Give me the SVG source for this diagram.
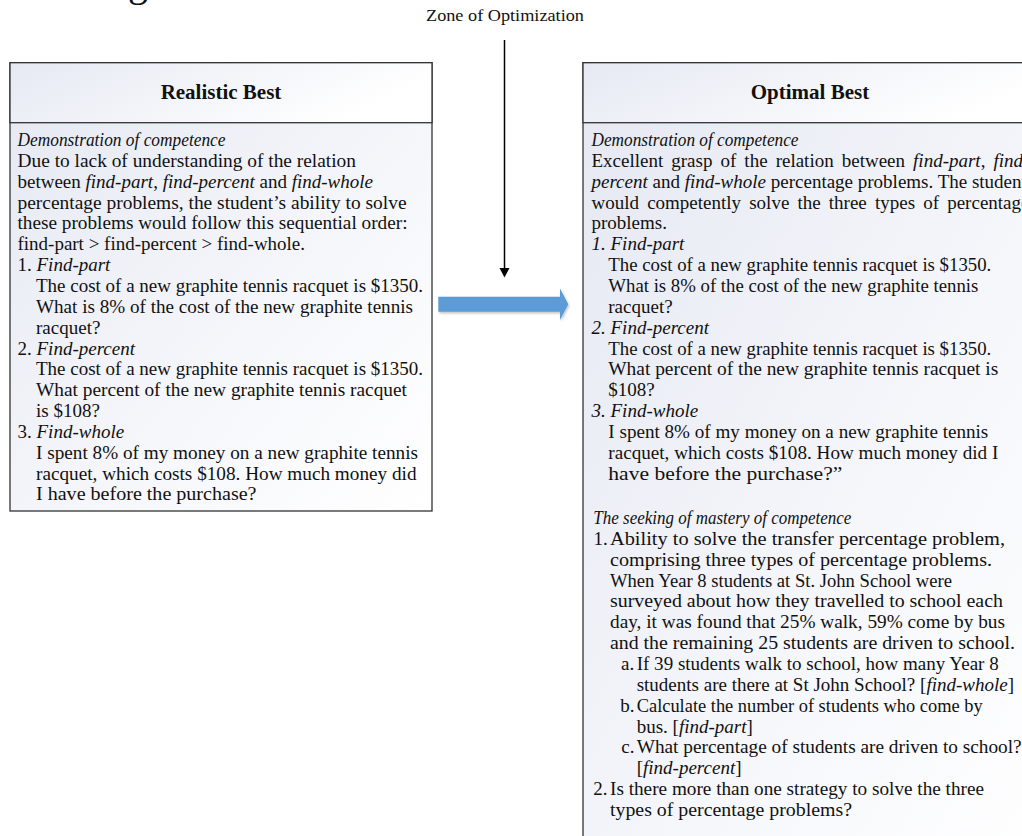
<svg xmlns="http://www.w3.org/2000/svg" width="1022" height="836" viewBox="0 0 1022 836">
<style>
text{font-family:"Liberation Serif","Times New Roman",serif;fill:#111}
.b{font-size:19px}
.i{font-style:italic}
.h{font-size:21px;font-weight:bold;text-anchor:middle}
.box{stroke:#333;stroke-width:1.3}
</style>
<defs>
<linearGradient id="gb" x1="0" y1="0" x2="1" y2="1">
<stop offset="0" stop-color="#e5e8f2"/>
<stop offset="0.6" stop-color="#f6f7fb"/>
<stop offset="1" stop-color="#ffffff"/>
</linearGradient>
<linearGradient id="gh" x1="0" y1="0" x2="1" y2="0.3">
<stop offset="0" stop-color="#e6e9f3"/>
<stop offset="1" stop-color="#ffffff"/>
</linearGradient>
<filter id="sh" x="-5%" y="-30%" width="110%" height="160%">
<feDropShadow dx="1" dy="1.5" stdDeviation="1" flood-color="#000" flood-opacity="0.25"/>
</filter>
</defs>
<rect width="1022" height="836" fill="#fff"/>
<text x="128" y="-4" style="font-size:40px">g</text>
<text x="505" y="20.5" style="font-size:17.5px" text-anchor="middle" textLength="158" lengthAdjust="spacingAndGlyphs">Zone of Optimization</text>

<g id="realistic-best">
<rect class="box" x="10" y="62.7" width="422" height="448.3" fill="url(#gb)"/>
<rect class="box" x="10" y="62.7" width="422" height="60" fill="url(#gh)"/>
<text class="h" x="221" y="99">Realistic Best</text>
<text class="b i" x="17.5" y="146" textLength="208" lengthAdjust="spacingAndGlyphs">Demonstration of competence</text>
<text class="b" x="17.5" y="166.85" textLength="338.5" lengthAdjust="spacingAndGlyphs">Due to lack of understanding of the relation</text>
<text class="b" x="17.5" y="187.7">between <tspan class="i">find-part</tspan>, <tspan class="i">find-percent</tspan> and <tspan class="i">find-whole</tspan></text>
<text class="b" x="17.5" y="208.55" textLength="389" lengthAdjust="spacingAndGlyphs">percentage problems, the student’s ability to solve</text>
<text class="b" x="17.5" y="229.4" textLength="390" lengthAdjust="spacingAndGlyphs">these problems would follow this sequential order:</text>
<text class="b" x="17.5" y="250.25" textLength="287.5" lengthAdjust="spacingAndGlyphs">find-part &gt; find-percent &gt; find-whole.</text>
<text class="b" x="17.5" y="271.1">1. <tspan class="i">Find-part</tspan></text>
<text class="b" x="36" y="291.95" textLength="387" lengthAdjust="spacingAndGlyphs">The cost of a new graphite tennis racquet is $1350.</text>
<text class="b" x="36" y="312.8" textLength="377" lengthAdjust="spacingAndGlyphs">What is 8% of the cost of the new graphite tennis</text>
<text class="b" x="36" y="333.65">racquet?</text>
<text class="b" x="17.5" y="354.5">2. <tspan class="i">Find-percent</tspan></text>
<text class="b" x="36" y="375.35" textLength="387" lengthAdjust="spacingAndGlyphs">The cost of a new graphite tennis racquet is $1350.</text>
<text class="b" x="36" y="396.2" textLength="371" lengthAdjust="spacingAndGlyphs">What percent of the new graphite tennis racquet</text>
<text class="b" x="36" y="417.05">is $108?</text>
<text class="b" x="17.5" y="437.9">3. <tspan class="i">Find-whole</tspan></text>
<text class="b" x="36" y="458.75" textLength="382" lengthAdjust="spacingAndGlyphs">I spent 8% of my money on a new graphite tennis</text>
<text class="b" x="36" y="479.6" textLength="380.5" lengthAdjust="spacingAndGlyphs">racquet, which costs $108. How much money did</text>
<text class="b" x="36" y="500.45" textLength="220.5" lengthAdjust="spacingAndGlyphs">I have before the purchase?</text>
</g>

<g id="optimal-best">
<rect class="box" x="583" y="62.7" width="470" height="800" fill="url(#gb)"/>
<rect class="box" x="583" y="62.7" width="470" height="60" fill="url(#gh)"/>
<text class="h" x="810" y="99">Optimal Best</text>
<text class="b i" x="591.5" y="146" textLength="207" lengthAdjust="spacingAndGlyphs">Demonstration of competence</text>
<text class="b" x="591.5" y="166.85" word-spacing="3.3">Excellent grasp of the relation between <tspan class="i">find-part</tspan>, <tspan class="i">find-</tspan></text>
<text class="b" x="591.5" y="187.7"><tspan class="i">percent</tspan> and <tspan class="i">find-whole</tspan> percentage problems. The student</text>
<text class="b" x="591.5" y="208.55" word-spacing="3.4">would competently solve the three types of percentage</text>
<text class="b" x="591.5" y="229.4">problems.</text>
<text class="b i" x="591.5" y="250.25">1. Find-part</text>
<text class="b" x="608.3" y="271.1" textLength="383" lengthAdjust="spacingAndGlyphs">The cost of a new graphite tennis racquet is $1350.</text>
<text class="b" x="608.3" y="291.95" textLength="370" lengthAdjust="spacingAndGlyphs">What is 8% of the cost of the new graphite tennis</text>
<text class="b" x="608.3" y="312.8">racquet?</text>
<text class="b i" x="591.5" y="333.65">2. Find-percent</text>
<text class="b" x="608.3" y="354.5" textLength="383" lengthAdjust="spacingAndGlyphs">The cost of a new graphite tennis racquet is $1350.</text>
<text class="b" x="608.3" y="375.35" textLength="390" lengthAdjust="spacingAndGlyphs">What percent of the new graphite tennis racquet is</text>
<text class="b" x="608.3" y="396.2">$108?</text>
<text class="b i" x="591.5" y="417.05">3. Find-whole</text>
<text class="b" x="608.3" y="437.9" textLength="380" lengthAdjust="spacingAndGlyphs">I spent 8% of my money on a new graphite tennis</text>
<text class="b" x="608.3" y="458.75" textLength="390" lengthAdjust="spacingAndGlyphs">racquet, which costs $108. How much money did I</text>
<text class="b" x="608.3" y="479.6" textLength="234" lengthAdjust="spacingAndGlyphs">have before the purchase?”</text>
<text class="b i" x="593.3" y="524" textLength="258" lengthAdjust="spacingAndGlyphs">The seeking of mastery of competence</text>
<text class="b" x="593.5" y="544.85">1.</text>
<text class="b" x="610" y="544.85" textLength="395" lengthAdjust="spacingAndGlyphs">Ability to solve the transfer percentage problem,</text>
<text class="b" x="610" y="565.7" textLength="382" lengthAdjust="spacingAndGlyphs">comprising three types of percentage problems.</text>
<text class="b" x="610" y="586.55" textLength="342" lengthAdjust="spacingAndGlyphs">When Year 8 students at St. John School were</text>
<text class="b" x="610" y="607.4" textLength="393" lengthAdjust="spacingAndGlyphs">surveyed about how they travelled to school each</text>
<text class="b" x="610" y="628.25" textLength="395" lengthAdjust="spacingAndGlyphs">day, it was found that 25% walk, 59% come by bus</text>
<text class="b" x="610" y="649.1" textLength="405" lengthAdjust="spacingAndGlyphs">and the remaining 25 students are driven to school.</text>
<text class="b" x="621" y="670">a.</text>
<text class="b" x="636.7" y="670" textLength="362" lengthAdjust="spacingAndGlyphs">If 39 students walk to school, how many Year 8</text>
<text class="b" x="636.7" y="690.85">students are there at St John School? [<tspan class="i">find-whole</tspan>]</text>
<text class="b" x="620.3" y="711.7">b.</text>
<text class="b" x="636.7" y="711.7" textLength="346" lengthAdjust="spacingAndGlyphs">Calculate the number of students who come by</text>
<text class="b" x="636.7" y="732.55">bus. [<tspan class="i">find-part</tspan>]</text>
<text class="b" x="621.3" y="753.4">c.</text>
<text class="b" x="636.7" y="753.4" textLength="385" lengthAdjust="spacingAndGlyphs">What percentage of students are driven to school?</text>
<text class="b" x="636.7" y="774.25">[<tspan class="i">find-percent</tspan>]</text>
<text class="b" x="593.3" y="795.1">2.</text>
<text class="b" x="610" y="795.1" textLength="374" lengthAdjust="spacingAndGlyphs">Is there more than one strategy to solve the three</text>
<text class="b" x="610" y="815.95" textLength="242" lengthAdjust="spacingAndGlyphs">types of percentage problems?</text>
</g>

<g id="connectors">
<line x1="504.5" y1="40" x2="504.5" y2="269" stroke="#000" stroke-width="1.5"/>
<polygon points="499.5,268 509.5,268 504.5,277.5" fill="#000"/>
<polygon points="438.3,296.7 560,296.7 560,288.5 568.3,304.2 560,320 560,311.7 438.3,311.7" fill="#5b9bd5" filter="url(#sh)"/>
</g>
</svg>
